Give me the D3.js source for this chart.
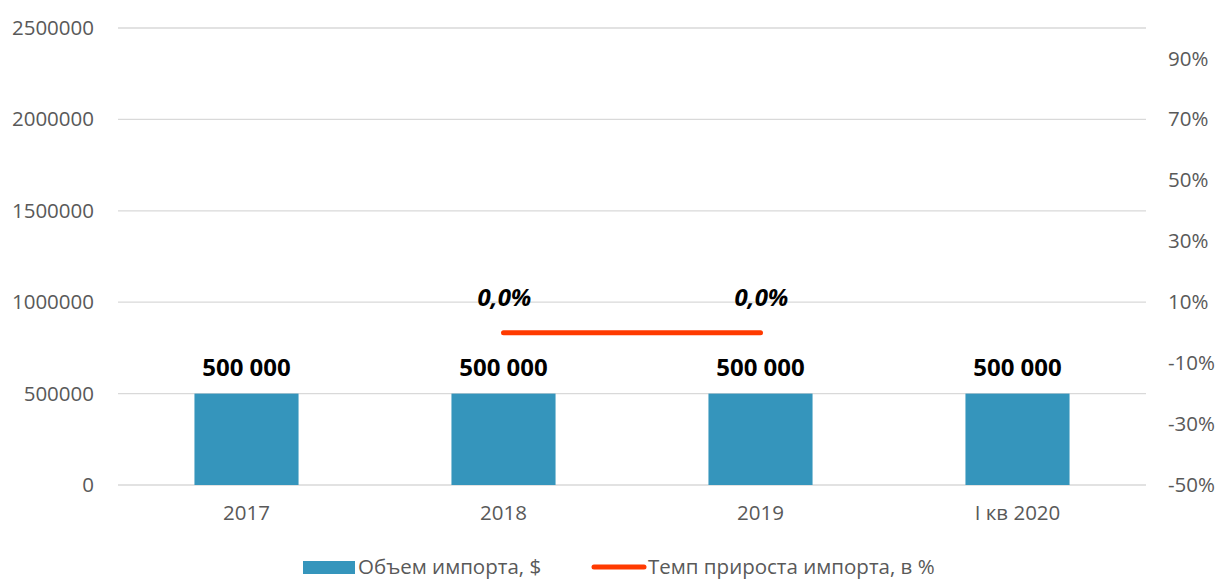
<!DOCTYPE html>
<html><head><meta charset="utf-8">
<script src="https://cdn.jsdelivr.net/npm/d3@7"></script>
<style>body{margin:0;background:#fff;} text{font-family:"Open Sans",sans-serif;}</style>
</head><body>
<svg id="chart" width="1220" height="581"></svg>
<script>
const categories = ["2017", "2018", "2019", "I кв 2020"];
const importVolume = [500000, 500000, 500000, 500000];
const growthRate = [null, 0.0, 0.0, null];
const leftTicks = [0, 500000, 1000000, 1500000, 2000000, 2500000];
const rightTicks = [-0.5, -0.3, -0.1, 0.1, 0.3, 0.5, 0.7, 0.9];
const seriesNames = ["Объем импорта, $", "Темп прироста импорта, в %"];

const svg = d3.select("#chart");
const L = 118, R = 1146, T = 28, B = 485;
const barColor = "#3595bc", lineColor = "#ff3a00", axisText = "#595959", gridColor = "#d9d9d9";
const fs = "20.5px";

const x = d3.scaleBand().domain(categories).range([L, R]).paddingInner(0.595).paddingOuter(0.2975);
const y = d3.scaleLinear().domain([0, 2500000]).range([B, T]);
const y2 = d3.scaleLinear().domain([-0.5, 1.0]).range([B, T]);

// gridlines
svg.append("g").selectAll("line").data(leftTicks).join("line")
  .attr("x1", L).attr("x2", R).attr("y1", d => y(d)).attr("y2", d => y(d))
  .attr("stroke", gridColor).attr("stroke-width", 1.3);

// left axis
const gl = svg.append("g").attr("transform", `translate(${L},0)`)
  .call(d3.axisLeft(y).tickValues(leftTicks).tickFormat(d3.format("d")).tickSize(0).tickPadding(24));
gl.select(".domain").remove();
gl.selectAll("text").attr("fill", axisText).style("font-size", fs);

// right axis
const gr = svg.append("g").attr("transform", `translate(${R},0)`)
  .call(d3.axisRight(y2).tickValues(rightTicks).tickFormat(d => Math.round(d * 100) + "%").tickSize(0).tickPadding(22));
gr.select(".domain").remove();
gr.selectAll("text").attr("fill", axisText).style("font-size", fs);

// bottom axis
const gb = svg.append("g").attr("transform", `translate(0,${B})`)
  .call(d3.axisBottom(x).tickSize(0).tickPadding(20));
gb.select(".domain").remove();
gb.selectAll("text").attr("fill", axisText).style("font-size", fs);

// bars
svg.append("g").selectAll("rect").data(importVolume).join("rect")
  .attr("x", (d, i) => x(categories[i])).attr("width", x.bandwidth())
  .attr("y", d => y(d)).attr("height", d => y(0) - y(d))
  .attr("fill", barColor);

// bar labels
svg.append("g").selectAll("text").data(importVolume).join("text")
  .attr("x", (d, i) => x(categories[i]) + x.bandwidth() / 2)
  .attr("y", d => y(d) - 18)
  .attr("text-anchor", "middle").attr("fill", "#000")
  .style("font-size", "24px").style("font-weight", "bold")
  .text(d => d3.format(",")(d).replace(/,/g, " "));

// line
const pts = growthRate.map((v, i) => ({v, c: categories[i]}));
const line = d3.line().defined(d => d.v !== null)
  .x(d => x(d.c) + x.bandwidth() / 2).y(d => y2(d.v));
svg.append("path").datum(pts).attr("d", line)
  .attr("fill", "none").attr("stroke", lineColor).attr("stroke-width", 5).attr("stroke-linecap", "round");

// line labels
svg.append("g").selectAll("text").data(pts.filter(d => d.v !== null)).join("text")
  .attr("x", d => x(d.c) + x.bandwidth() / 2 + 1)
  .attr("y", d => y2(d.v) - 27)
  .attr("text-anchor", "middle").attr("fill", "#000")
  .style("font-size", "24px").style("font-weight", "bold").style("font-style", "italic")
  .text(d => d3.format(".1f")(d.v * 100).replace(".", ",") + "%");

// legend
const lg = svg.append("g");
lg.append("rect").attr("x", 303).attr("y", 561).attr("width", 52).attr("height", 13).attr("fill", barColor);
lg.append("text").attr("x", 358).attr("y", 567).attr("dy", "0.35em").attr("fill", axisText)
  .style("font-size", fs).text(seriesNames[0]);
lg.append("line").attr("x1", 594).attr("x2", 644).attr("y1", 567).attr("y2", 567)
  .attr("stroke", lineColor).attr("stroke-width", 5).attr("stroke-linecap", "round");
lg.append("text").attr("x", 648).attr("y", 567).attr("dy", "0.35em").attr("fill", axisText)
  .style("font-size", fs).text(seriesNames[1]);
</script>
</body></html>
